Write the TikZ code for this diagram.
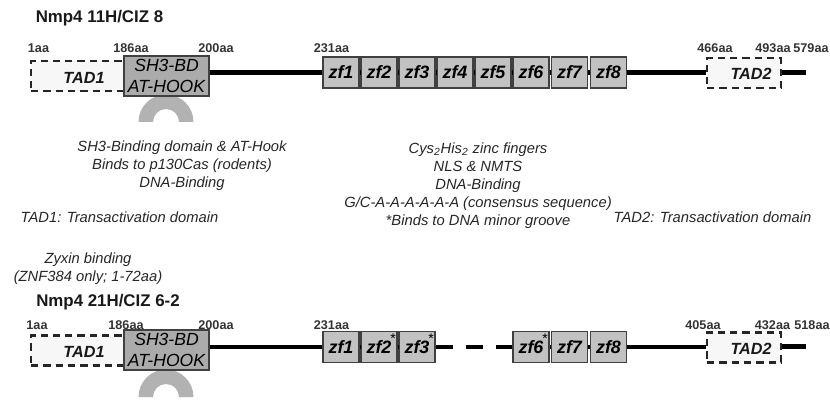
\documentclass[tikz,border=0pt]{standalone}
\usepackage{fontspec}
\setmainfont{Liberation Sans}
\tikzset{
    domainbase/.style={
        draw=black!75,
        line width=0.6pt,
        inner sep=0pt,
        font=\fontsize{10}{11.5}\selectfont\itshape,
        text=black,
        align=center
    },
    zfbox/.style={
        domainbase,
        fill=black!24,
        minimum width=0.72cm,
        minimum height=0.62cm,
        font=\fontsize{10.2}{12}\selectfont\bfseries\itshape
    },
    hookbox/.style={
        domainbase,
        fill=black!33,
        minimum width=1.7cm,
        minimum height=0.8cm
    },
    tadbox/.style={
        domainbase,
        draw=black!85,
        fill=black!3,
        dashed,
        dash pattern=on 4.2pt off 2.8pt,
        line width=1.3pt,
        minimum height=0.6cm
    },
    tadtext/.style={
        font=\fontsize{9.2}{11}\selectfont\bfseries\itshape,
        text=black!90,
        inner sep=0pt
    },
    backbone/.style={
        line width=2.3pt,
        black
    },
    hookarc/.style={
        fill=black!30
    },
    aalabel/.style={
        font=\fontsize{7.2}{8}\selectfont\bfseries,
        text=black!80,
        inner sep=0pt
    },
    isotitle/.style={
        font=\fontsize{9.6}{11}\selectfont\bfseries,
        text=black!90,
        inner sep=0pt
    },
    notetext/.style={
        font=\fontsize{8.4}{10.3}\selectfont\itshape,
        text=black!85,
        inner sep=0pt,
        align=center
    },
    starmark/.style={
        font=\fontsize{8}{9}\selectfont,
        inner sep=0pt
    }
}
\begin{document}
\begin{tikzpicture}[
    x=0.02cm,
    y=-0.02cm
]
    \useasboundingbox (0,0) rectangle (830,401);

    % Titles
    \node[isotitle] (titleA) at (99.5,18)  {Nmp4 11H/CIZ 8};
    \node[isotitle] (titleB) at (108,302.5) {Nmp4 21H/CIZ 6-2};

    % Upper isoform, hook below the domain box
    \fill[hookarc] (138.5,122) arc[start angle=180, end angle=0, radius=0.55cm]
        -- (179,122) arc[start angle=0, end angle=180, radius=0.26cm] -- cycle;

    % Upper isoform, domains
    \node[tadbox, minimum width=1.96cm] (tadA1) at (80,76)    {};
    \node[tadtext]                      (tadA1text) at (84,78) {TAD1};
    \node[hookbox]                      (hookA) at (166.5,76) {SH3-BD\\AT-HOOK};

    \node[zfbox] (zfA1) at (341,72.5) {zf1};
    \node[zfbox] (zfA2) at (379,72.5) {zf2};
    \node[zfbox] (zfA3) at (417,72.5) {zf3};
    \node[zfbox] (zfA4) at (455,72.5) {zf4};
    \node[zfbox] (zfA5) at (493,72.5) {zf5};
    \node[zfbox] (zfA6) at (531,72.5) {zf6};
    \node[zfbox] (zfA7) at (569.5,72.5) {zf7};
    \node[zfbox] (zfA8) at (608.5,72.5) {zf8};

    \node[tadbox, minimum width=1.48cm] (tadA2) at (744,73) {};
    \node[tadtext]                      (tadA2text) at (751,74) {TAD2};
    \coordinate (tailA) at (806,72.5);

    % Upper isoform, backbone
    \draw[backbone] (hookA.east |- zfA1.west) -- (zfA1.west);
    \draw[backbone] (zfA1) -- (zfA2);
    \draw[backbone] (zfA2) -- (zfA3);
    \draw[backbone] (zfA3) -- (zfA4);
    \draw[backbone] (zfA4) -- (zfA5);
    \draw[backbone] (zfA5) -- (zfA6);
    \draw[backbone] (zfA6) -- (zfA7);
    \draw[backbone] (zfA7) -- (zfA8);
    \draw[backbone] (zfA8.east) -- (tadA2.west |- zfA8.east);
    \draw[backbone] (tadA2.east |- tailA) -- (tailA);

    % Upper isoform, positions
    \node[aalabel] (aaA1)   at (38.5,48) {1aa};
    \node[aalabel] (aaA186) at (131,48)  {186aa};
    \node[aalabel] (aaA200) at (216,48)  {200aa};
    \node[aalabel] (aaA231) at (331.5,48) {231aa};
    \node[aalabel] (aaA466) at (715,48)  {466aa};
    \node[aalabel] (aaA493) at (773,48)  {493aa};
    \node[aalabel] (aaA579) at (811,48)  {579aa};

    % Notes
    \node[notetext] (noteHook) at (182,166)
        {SH3-Binding domain \& AT-Hook\\Binds to p130Cas (rodents)\\DNA-Binding};
    \node[notetext] (noteTad1) at (119.5,217) {TAD1: Transactivation domain};
    \node[notetext] (noteZyxin) at (88,268.5) {Zyxin binding\\(ZNF384 only; 1-72aa)};
    \node[notetext] (noteZf) at (478,185.5)
        {Cys\textsubscript{2}His\textsubscript{2} zinc fingers\\NLS \& NMTS\\DNA-Binding\\G/C-A-A-A-A-A-A (consensus sequence)\\*Binds to DNA minor groove};
    \node[notetext] (noteTad2) at (712.5,217) {TAD2: Transactivation domain};

    % Lower isoform, hook below the domain box
    \fill[hookarc] (138.5,397) arc[start angle=180, end angle=0, radius=0.55cm]
        -- (179,397) arc[start angle=0, end angle=180, radius=0.26cm] -- cycle;

    % Lower isoform, domains
    \node[tadbox, minimum width=1.96cm] (tadB1) at (80,350.5) {};
    \node[tadtext]                      (tadB1text) at (84,352) {TAD1};
    \node[hookbox]                      (hookB) at (166.5,350) {SH3-BD\\AT-HOOK};

    \node[zfbox] (zfB1) at (341,347)   {zf1};
    \node[zfbox] (zfB2) at (379,347)   {zf2};
    \node[zfbox] (zfB3) at (417,347)   {zf3};
    \node[zfbox] (zfB6) at (531,347)   {zf6};
    \node[zfbox] (zfB7) at (569.5,347) {zf7};
    \node[zfbox] (zfB8) at (608.5,347) {zf8};

    \node[starmark] (starB2) at (393,339) {*};
    \node[starmark] (starB3) at (431,339) {*};
    \node[starmark] (starB6) at (545,339) {*};

    \node[tadbox, minimum width=1.48cm] (tadB2) at (744,347.5) {};
    \node[tadtext]                      (tadB2text) at (751,349) {TAD2};
    \coordinate (tailB) at (806,346.5);

    % Lower isoform, backbone
    \draw[backbone] (hookB.east |- zfB1.west) -- (zfB1.west);
    \draw[backbone] (zfB1) -- (zfB2);
    \draw[backbone] (zfB2) -- (zfB3);
    \draw[backbone, dash pattern=on 9.7pt off 7.4pt] (zfB3.east) -- (zfB6.west);
    \draw[backbone] (zfB6) -- (zfB7);
    \draw[backbone] (zfB7) -- (zfB8);
    \draw[backbone] (zfB8.east) -- (tadB2.west |- zfB8.east);
    \draw[backbone] (tadB2.east |- tailB) -- (tailB);

    % Lower isoform, positions
    \node[aalabel] (aaB1)   at (37,325)   {1aa};
    \node[aalabel] (aaB186) at (126,325)  {186aa};
    \node[aalabel] (aaB200) at (216,325)  {200aa};
    \node[aalabel] (aaB231) at (331.5,325) {231aa};
    \node[aalabel] (aaB405) at (703,325)  {405aa};
    \node[aalabel] (aaB432) at (772.5,325) {432aa};
    \node[aalabel] (aaB518) at (812,325)  {518aa};

\end{tikzpicture}
\end{document}
